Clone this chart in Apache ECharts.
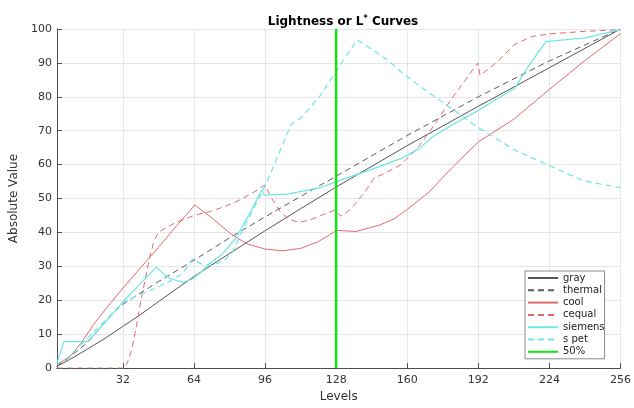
<!DOCTYPE html>
<html>
<head>
<meta charset="utf-8">
<script src="https://cdn.jsdelivr.net/npm/echarts@6/dist/echarts.min.js"></script>
<style>
html, body { margin: 0; padding: 0; background: #ffffff; }
#chart { width: 634px; height: 408px; }
</style>
</head>
<body>
<div id="chart"></div>
<script>
// Tick positions
const xTicks = [32, 64, 96, 128, 160, 192, 224, 256];
const xMin = 2.3;
const xMax = 256;

// Lightness curves, [level, L*] pairs
const gray = [[2.3,0.5],[8,2.5],[16,5.6],[24,8.8],[32,12.3],[40,15.8],[48,19.6],[64,27],[80,33.8],[96,40.5],[112,47],[128,53.4],[160,65.6],[192,77.2],[224,88.6],[256,100]];
const thermal = [[2.3,0.6],[8,3.2],[16,7.5],[24,13.5],[28,16.6],[32,18.8],[40,22.2],[48,25.5],[64,31.8],[80,38.4],[96,44.6],[112,50.6],[128,56.6],[160,68.6],[192,80],[224,90.6],[256,100]];
const cool = [[2.3,1],[8,3.3],[13,7.2],[19,13],[24,17.2],[32,23.6],[40,29.6],[48,35.6],[56,41.8],[64.4,48.1],[72,44.3],[81,39.4],[88,36.6],[96,35.1],[104,34.6],[112,35.3],[120,37.3],[127.5,40.3],[128.5,40.6],[137,40.3],[147.7,42.2],[154,44],[160,46.8],[170,52],[180,59],[192,66.7],[208,73.4],[224,82.2],[240,90.7],[256,98.6]];
const cequal = [[2.3,0],[32.4,0],[34,1.5],[36,5.5],[38,12],[40,19.5],[42,26],[44,32.5],[46,37.5],[48,40],[51,41.3],[56,43],[64,45],[72,46.3],[82,48.7],[90,51.5],[96,54],[99,50],[103,46],[106.5,44],[111,43],[116,43.6],[121,45],[127.5,46.6],[130,44.8],[133,46],[136,48],[141,52],[145,56],[150,57.5],[156.6,59.8],[161,62.4],[165.5,65.6],[172,71.5],[180,79.5],[191.8,90],[192.8,86.3],[201,90.6],[208,95.3],[216,97.8],[224.6,98.6],[240,99.3],[256,99.8]];
const siemens = [[2.3,1.5],[5.5,7.8],[16,7.8],[20,10.5],[24,13.5],[32,19.5],[40,25],[47,29.8],[50,28],[53,26.5],[59,25.3],[63,26.2],[67,28.2],[71,30.8],[77,33.8],[82.7,38.2],[88.6,45],[94.5,52.5],[95.7,51],[106,51.3],[121,53.2],[128,55],[143,58.4],[158,62],[165.5,64.8],[171,68],[180,71.6],[192,76],[200,79.2],[208.4,82.5],[215,89.5],[222.4,96.3],[240,97.4],[256,99.8]];
const sPet = [[2.3,1],[8,3.5],[13,6.8],[16,8.8],[24,14],[32,19.3],[38,21.2],[47,23.6],[55,26.3],[59,28],[63.4,32.2],[67.9,30.5],[72.3,30.3],[77,31.5],[81.2,34],[85.6,40.3],[93.1,49.9],[96.7,54.7],[107.8,71.9],[112.3,73.9],[121,80.5],[127.8,87.3],[137.4,96.8],[150.7,91.1],[156.6,87.7],[165.5,83.2],[171.4,80.5],[180,76.5],[191.8,71],[208.4,64.3],[224.6,59.5],[239.4,55.2],[256,53.2]];
const midLine = [[128,0],[128,100]];

const font = 'DejaVu Sans';
const dash = [6, 4];

function curve(name, data, color, dashed, width) {
  return {
    name: name,
    type: 'line',
    data: data,
    symbol: 'none',
    silent: true,
    animation: false,
    lineStyle: { color: color, width: width || 1, type: dashed ? dash : 'solid' },
    itemStyle: { color: color }
  };
}

const chart = echarts.init(document.getElementById('chart'), null, { renderer: 'canvas' });
chart.setOption({
  animation: false,
  backgroundColor: '#ffffff',
  title: {
    text: 'Lightness or L{sup|*} Curves',
    left: 338,
    top: 10,
    textAlign: 'center',
    textStyle: {
      fontFamily: font, fontSize: 12, fontWeight: 'bold', color: '#000',
      rich: { sup: { fontFamily: font, fontSize: 8, fontWeight: 'bold', verticalAlign: 'top', padding: [0, 0, 6, 0] } }
    }
  },
  grid: { left: 52, right: 10, top: 29, bottom: 31, containLabel: false },
  legend: {
    orient: 'vertical',
    left: 525,
    top: 271,
    padding: [1, 0, 1, 2],
    itemGap: 0.3,
    itemWidth: 30,
    itemHeight: 10,
    itemStyle: { opacity: 0 },
    backgroundColor: '#ffffff',
    borderColor: '#8a8a8a',
    borderWidth: 1,
    textStyle: { fontFamily: font, fontSize: 10, color: '#222', lineHeight: 12 },
    data: ['gray', 'thermal', 'cool', 'cequal', 'siemens', 's pet', '50%']
  },
  xAxis: {
    type: 'value',
    min: xMin,
    max: xMax,
    name: 'Levels',
    nameLocation: 'middle',
    nameGap: 19,
    nameTextStyle: { fontFamily: font, fontSize: 12, color: '#333' },
    axisLine: { show: true, lineStyle: { color: '#4d4d4d', width: 1 } },
    axisTick: { show: true, inside: true, length: 5, customValues: xTicks, lineStyle: { color: '#4d4d4d' } },
    axisLabel: { customValues: xTicks, fontFamily: font, fontSize: 11, color: '#333', margin: 7 },
    splitLine: { show: true, lineStyle: { color: '#e6e6e6', width: 1 } }
  },
  yAxis: {
    type: 'value',
    min: 0,
    max: 100,
    interval: 10,
    name: 'Absolute Value',
    nameLocation: 'middle',
    nameGap: 27,
    nameTextStyle: { fontFamily: font, fontSize: 12, color: '#333' },
    axisLine: { show: true, lineStyle: { color: '#4d4d4d', width: 1 } },
    axisTick: { show: true, inside: true, length: 5, lineStyle: { color: '#4d4d4d' } },
    axisLabel: { fontFamily: font, fontSize: 11, color: '#333', margin: 5 },
    splitLine: { show: true, lineStyle: { color: '#e6e6e6', width: 1 } }
  },
  series: [
    curve('gray', gray, '#555555', false),
    curve('thermal', thermal, '#5c5c5c', true),
    curve('cool', cool, '#e06a6a', false),
    curve('cequal', cequal, '#e06a6a', true),
    curve('siemens', siemens, '#6ee6e6', false, 1.2),
    curve('s pet', sPet, '#6ee6e6', true, 1.2),
    curve('50%', midLine, '#12e312', false, 2.5)
  ]
});
</script>
</body>
</html>
